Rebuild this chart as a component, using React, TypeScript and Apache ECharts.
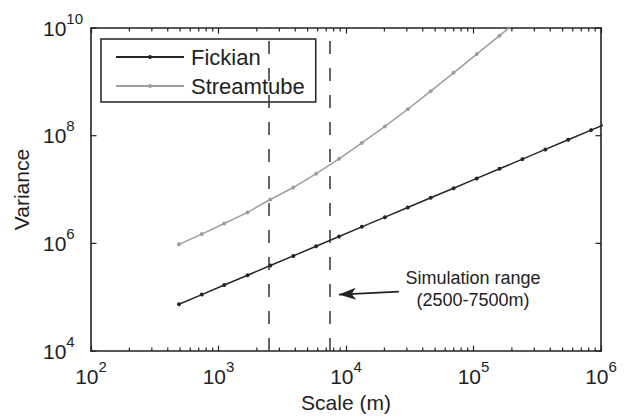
import React, { useEffect, useRef } from "react";
import * as echarts from "echarts";

// Scale (m) at which both variance curves are sampled
const scale = [
  490, 740, 1110, 1690, 2550, 3860, 5830, 8830, 13300, 20200, 30500, 46200,
  69800, 106000, 160000, 242000, 366000, 553000, 836000, 1265000,
];
const fickian = [
  7.4e4, 1.12e5, 1.69e5, 2.56e5, 3.88e5, 5.86e5, 8.87e5, 1.34e6, 2.03e6,
  3.07e6, 4.65e6, 7.03e6, 1.06e7, 1.61e7, 2.43e7, 3.67e7, 5.56e7, 8.41e7,
  1.27e8, 1.92e8,
];
const streamtube = [
  9.6e5, 1.49e6, 2.34e6, 3.77e6, 6.54e6, 1.09e7, 1.97e7, 3.72e7, 7.33e7,
  1.49e8, 3.1e8, 6.73e8, 1.47e9, 3.28e9, 7.21e9, 1.61e10,
];
// Simulation range bounds (m)
const simRange = [2500, 7500];
const annotation = "Simulation range\n(2500-7500m)";
const arrowFrom = [26000, 1.27e5];
const arrowTo = [8800, 1.12e5];

const X_MIN = 1e2;
const X_MAX = 1e6;
const Y_MIN = 1e4;
const Y_MAX = 1e10;
const yMajorTicks = [1e4, 1e6, 1e8, 1e10];
const xMinorTicks = [
  200, 300, 400, 500, 600, 700, 800, 900,
  2000, 3000, 4000, 5000, 6000, 7000, 8000, 9000,
  20000, 30000, 40000, 50000, 60000, 70000, 80000, 90000,
  200000, 300000, 400000, 500000, 600000, 700000, 800000, 900000,
];

const FONT = "'Liberation Sans', Arial, Helvetica, sans-serif";
const INK = "#222222";

const powLabel = (v: number) => {
  const e = Math.round(Math.log10(v));
  return `{b|10}{s|${e}}`;
};
const powRich = {
  b: { fontSize: 21, fontFamily: FONT, color: INK },
  s: { fontSize: 15, fontFamily: FONT, color: INK, padding: [0, 0, 20, 0] },
};

export default function App() {
  const ref = useRef<HTMLDivElement>(null);

  useEffect(() => {
    document.body.style.margin = "0";
    if (!ref.current) return;
    const chart = echarts.init(ref.current, undefined, { renderer: "svg" });

    const tickStyle = { stroke: INK, lineWidth: 1.2 };

    const option: any = {
      animation: false,
      backgroundColor: "#ffffff",
      textStyle: { fontFamily: FONT, color: INK },
      grid: { left: 91, right: 24, top: 28, bottom: 64, containLabel: false },
      legend: {
        data: ["Fickian", "Streamtube"],
        orient: "vertical",
        left: 101,
        top: 39,
        padding: [7, 11, 5, 14],
        itemGap: 7,
        itemWidth: 68,
        itemHeight: 5,
        borderColor: INK,
        borderWidth: 1.5,
        backgroundColor: "#ffffff",
        textStyle: { fontSize: 22, color: INK, fontFamily: FONT, padding: [0, 0, 0, 2] },
      },
      xAxis: [
        {
          type: "log",
          logBase: 10,
          min: X_MIN,
          max: X_MAX,
          name: "Scale (m)",
          nameLocation: "middle",
          nameGap: 40,
          nameTextStyle: { fontSize: 21, color: INK, fontFamily: FONT },
          axisLine: { show: true, lineStyle: { color: INK, width: 1.6 } },
          axisTick: { show: true, inside: true, length: 5.5, lineStyle: { color: INK, width: 1.2 } },
          axisLabel: { formatter: powLabel, rich: powRich, margin: 8 },
          splitLine: { show: false },
          minorTick: { show: false },
        },
        {
          type: "log",
          logBase: 10,
          min: X_MIN,
          max: X_MAX,
          position: "top",
          axisLine: { show: true, lineStyle: { color: INK, width: 1.6 } },
          axisTick: { show: true, inside: true, length: 5.5, lineStyle: { color: INK, width: 1.2 } },
          axisLabel: { show: false },
          splitLine: { show: false },
        },
      ],
      yAxis: [
        {
          type: "log",
          logBase: 10,
          min: Y_MIN,
          max: Y_MAX,
          name: "Variance",
          nameLocation: "middle",
          nameGap: 57,
          nameTextStyle: { fontSize: 21, color: INK, fontFamily: FONT },
          axisLine: { show: true, lineStyle: { color: INK, width: 1.6 } },
          axisTick: { show: false },
          axisLabel: {
            align: "left",
            margin: 48,
            rich: powRich,
            formatter: (v: number) => {
              const e = Math.round(Math.log10(v));
              return e % 2 === 0 ? powLabel(v) : "";
            },
          },
          splitLine: { show: false },
        },
        {
          type: "log",
          logBase: 10,
          min: Y_MIN,
          max: Y_MAX,
          position: "right",
          axisLine: { show: true, lineStyle: { color: INK, width: 1.6 } },
          axisTick: { show: false },
          axisLabel: { show: false },
          splitLine: { show: false },
        },
      ],
      graphic: [
        {
          type: "text",
          x: 473,
          y: 289,
          style: {
            text: annotation,
            textAlign: "center",
            textVerticalAlign: "middle",
            align: "center",
            verticalAlign: "middle",
            fontSize: 18,
            lineHeight: 22,
            fontFamily: FONT,
            fill: INK,
          },
        },
      ],
      series: [
        {
          name: "Fickian",
          type: "line",
          data: scale.map((x, i) => [x, fickian[i]]),
          symbol: "circle",
          symbolSize: 4,
          showSymbol: true,
          showAllSymbol: true,
          clip: true,
          itemStyle: { color: "#262626" },
          lineStyle: { color: "#262626", width: 1.5 },
          z: 3,
          markLine: {
            silent: true,
            symbol: "none",
            label: { show: false },
            lineStyle: { color: "#333333", width: 1.5, type: [13, 14] },
            data: [
              { xAxis: simRange[0] },
              { xAxis: simRange[1] },
              [
                {
                  coord: arrowFrom,
                  symbol: "none",
                  lineStyle: { type: "solid", width: 1.8, color: INK },
                },
                { coord: arrowTo, symbol: "arrow", symbolSize: [9, 17] },
              ],
            ],
          },
        },
        {
          name: "Streamtube",
          type: "line",
          data: streamtube.map((v, i) => [scale[i], v]),
          symbol: "circle",
          symbolSize: 4,
          showSymbol: true,
          showAllSymbol: true,
          clip: true,
          itemStyle: { color: "#9e9e9e" },
          lineStyle: { color: "#9e9e9e", width: 1.5 },
          z: 2,
        },
        {
          // minor decade ticks on the bottom and top edges
          type: "custom",
          silent: true,
          data: xMinorTicks.map((v) => [v, Y_MIN]),
          renderItem: (_p: any, api: any) => {
            const v = api.value(0);
            const b = api.coord([v, Y_MIN]);
            const t = api.coord([v, Y_MAX]);
            return {
              type: "group",
              children: [
                { type: "line", shape: { x1: b[0], y1: b[1], x2: b[0], y2: b[1] - 3.5 }, style: tickStyle },
                { type: "line", shape: { x1: t[0], y1: t[1], x2: t[0], y2: t[1] + 3.5 }, style: tickStyle },
              ],
            };
          },
          z: 5,
        },
        {
          // major variance ticks on the left and right edges
          type: "custom",
          silent: true,
          data: yMajorTicks.map((v) => [X_MIN, v]),
          renderItem: (_p: any, api: any) => {
            const v = api.value(1);
            const l = api.coord([X_MIN, v]);
            const r = api.coord([X_MAX, v]);
            return {
              type: "group",
              children: [
                { type: "line", shape: { x1: l[0], y1: l[1], x2: l[0] + 5.5, y2: l[1] }, style: tickStyle },
                { type: "line", shape: { x1: r[0], y1: r[1], x2: r[0] - 5.5, y2: r[1] }, style: tickStyle },
              ],
            };
          },
          z: 5,
        },
      ],
    };

    chart.setOption(option);
    return () => chart.dispose();
  }, []);

  return <div ref={ref} style={{ width: 625, height: 418 }} />;
}
